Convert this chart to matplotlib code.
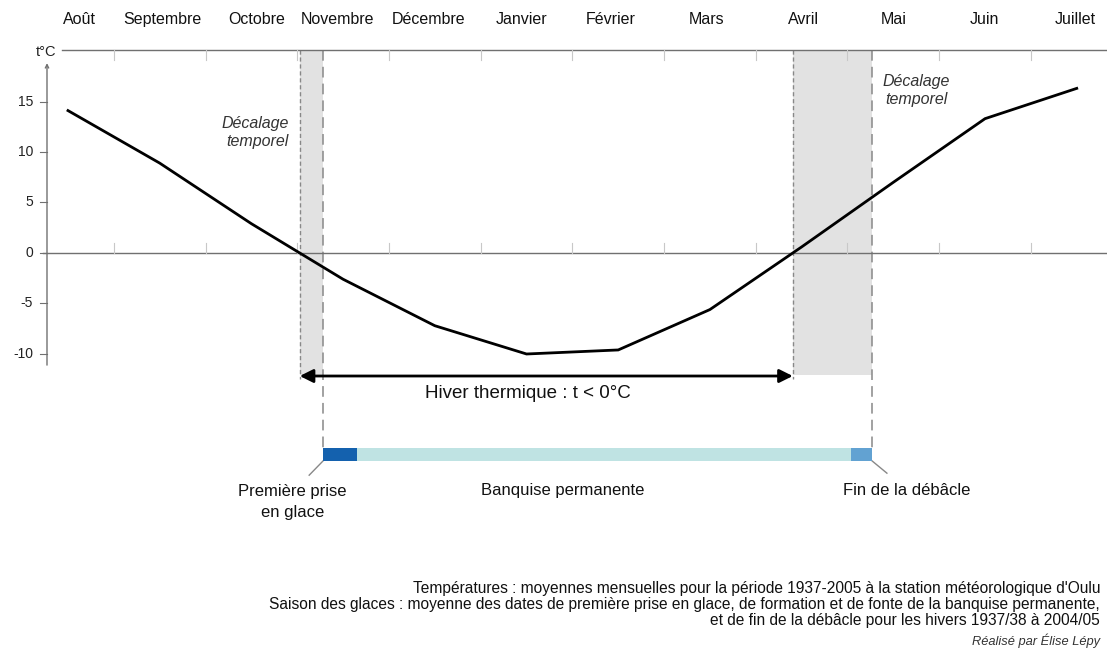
import numpy as np
import matplotlib.pyplot as plt

plt.rcParams['font.family'] = ['Liberation Sans', 'DejaVu Sans']

# mois (août -> juillet) et températures moyennes mensuelles à Oulu
mois = ['Août', 'Septembre', 'Octobre', 'Novembre', 'Décembre', 'Janvier',
        'Février', 'Mars', 'Avril', 'Mai', 'Juin', 'Juillet']
temperatures = [14.1, 8.9, 2.9, -2.6, -7.2, -10.0, -9.6, -5.6, 0.6, 7.0, 13.3, 16.3]
yticks = [15, 10, 5, 0, -5, -10]

# saison des glaces (position en mois depuis mi-août)
premiere_prise = 2.78
debut_banquise = 3.15
fin_banquise = 8.54
fin_debacle = 8.77

# position des étiquettes de mois
mois_pos = [0.13, 1.03, 2.06, 2.94, 3.93, 4.95, 5.92, 6.96, 8.02, 9.0, 9.99, 10.98]

x = np.arange(len(mois))
t = np.array(temperatures)

# passages à 0°C (interpolation linéaire)
i_aut = np.where((t[:-1] > 0) & (t[1:] <= 0))[0][0]
zero_aut = i_aut + t[i_aut] / (t[i_aut] - t[i_aut + 1])
i_pri = np.where((t[:-1] < 0) & (t[1:] >= 0))[0][0]
zero_pri = i_pri - t[i_pri] / (t[i_pri + 1] - t[i_pri])

fig = plt.figure(figsize=(11.07, 6.49), dpi=100)
ax = fig.add_axes([0, 0, 1, 1])
ax.set_xlim(-0.7415, 11.33)
ax.set_ylim(-39.21, 25.05)
ax.axis('off')

gris = '#707070'
top = 20.1
bas_ombre = -12.1

# zones de décalage temporel
ax.fill_between([zero_aut, premiere_prise], bas_ombre, top, color='#e2e2e2', lw=0, zorder=1)
ax.fill_between([zero_pri, fin_debacle], bas_ombre, top, color='#e2e2e2', lw=0, zorder=1)

# lignes pointillées
for xv in [zero_aut, zero_pri]:
    ax.plot([xv, xv], [top, -12.5], color='#888888', lw=1, ls=(0, (3, 2)), zorder=2)
for xv in [premiere_prise, fin_debacle]:
    ax.plot([xv, xv], [top, -19.3], color='#888888', lw=1.1, ls=(0, (7, 4)), zorder=2)

# ligne du haut et des mois
ax.plot([-0.065, 11.33], [top, top], color=gris, lw=1, zorder=2)
ax.plot([-0.273, 11.33], [0, 0], color=gris, lw=1, zorder=2)
for b in np.arange(0.5, 11, 1):
    ax.plot([b, b], [top, top - 1.0], color='#c8c8c8', lw=0.8, zorder=2)
    ax.plot([b, b], [0, 1.0], color='#c8c8c8', lw=0.8, zorder=2)
for m, p in zip(mois, mois_pos):
    ax.text(p, 23.1, m, ha='center', va='center', fontsize=11.5, color='#111111')

# axe des températures
ax.annotate('', xy=(-0.229, 18.8), xytext=(-0.229, -11.1),
            arrowprops=dict(arrowstyle='->', color=gris, lw=1, shrinkA=0, shrinkB=0,
                            mutation_scale=6))
for v in yticks:
    ax.plot([-0.31, -0.229], [v, v], color=gris, lw=0.8)
    ax.text(-0.38, v, str(v), ha='right', va='center', fontsize=10, color='#222222')
ax.text(-0.24, 19.9, 't°C', ha='center', va='center', fontsize=10.5, color='#222222')

# courbe des températures
ax.plot(x, t, color='black', lw=2, solid_joinstyle='miter', zorder=3)

ax.text(2.41, 11.98, 'Décalage\ntemporel', ha='right', va='center', style='italic',
        fontsize=11.5, color='#333333', multialignment='right', linespacing=1.25)
ax.text(8.88, 16.1, 'Décalage\ntemporel', ha='left', va='center', style='italic',
        fontsize=11.5, color='#333333', multialignment='center', linespacing=1.25)

# hiver thermique
ax.annotate('', xy=(zero_aut, -12.18), xytext=(zero_pri, -12.18),
            arrowprops=dict(arrowstyle='<|-|>', color='black', lw=2, shrinkA=0, shrinkB=0,
                            mutation_scale=20))
ax.text(5.02, -13.9, 'Hiver thermique : t < 0°C', ha='center', va='center',
        fontsize=13.5, color='#111111')

# saison des glaces
ax.broken_barh([(premiere_prise, debut_banquise - premiere_prise),
                (debut_banquise, fin_banquise - debut_banquise),
                (fin_banquise, fin_debacle - fin_banquise)],
               (-20.6, 1.3), facecolors=['#1461ae', '#bfe3e3', '#62a2d2'], zorder=3)
ax.plot([premiere_prise, 2.63], [-20.6, -22.0], color='#888888', lw=1)
ax.plot([fin_debacle, 8.93], [-20.6, -21.8], color='#888888', lw=1)
ax.text(2.45, -24.65, 'Première prise\nen glace', ha='center', va='center', fontsize=12,
        color='#111111', linespacing=1.45)
ax.text(5.39, -23.47, 'Banquise permanente', ha='center', va='center', fontsize=12, color='#111111')
ax.text(9.15, -23.47, 'Fin de la débâcle', ha='center', va='center', fontsize=12, color='#111111')

# sources
notes = ["Températures : moyennes mensuelles pour la période 1937-2005 à la station météorologique d'Oulu",
         "Saison des glaces : moyenne des dates de première prise en glace, de formation et de fonte de la banquise permanente,",
         "et de fin de la débâcle pour les hivers 1937/38 à 2004/05"]
for k, n in enumerate(notes):
    fig.text(0.9937, 1 - (588 + 16.5 * k) / 649, n, ha='right', va='center', fontsize=11.2,
             color='#111111')
fig.text(0.9937, 1 - 641 / 649, 'Réalisé par Élise Lépy', ha='right', va='center', fontsize=9.3,
         style='italic', color='#333333')

fig.savefig('out.png', dpi=100, facecolor='white')
